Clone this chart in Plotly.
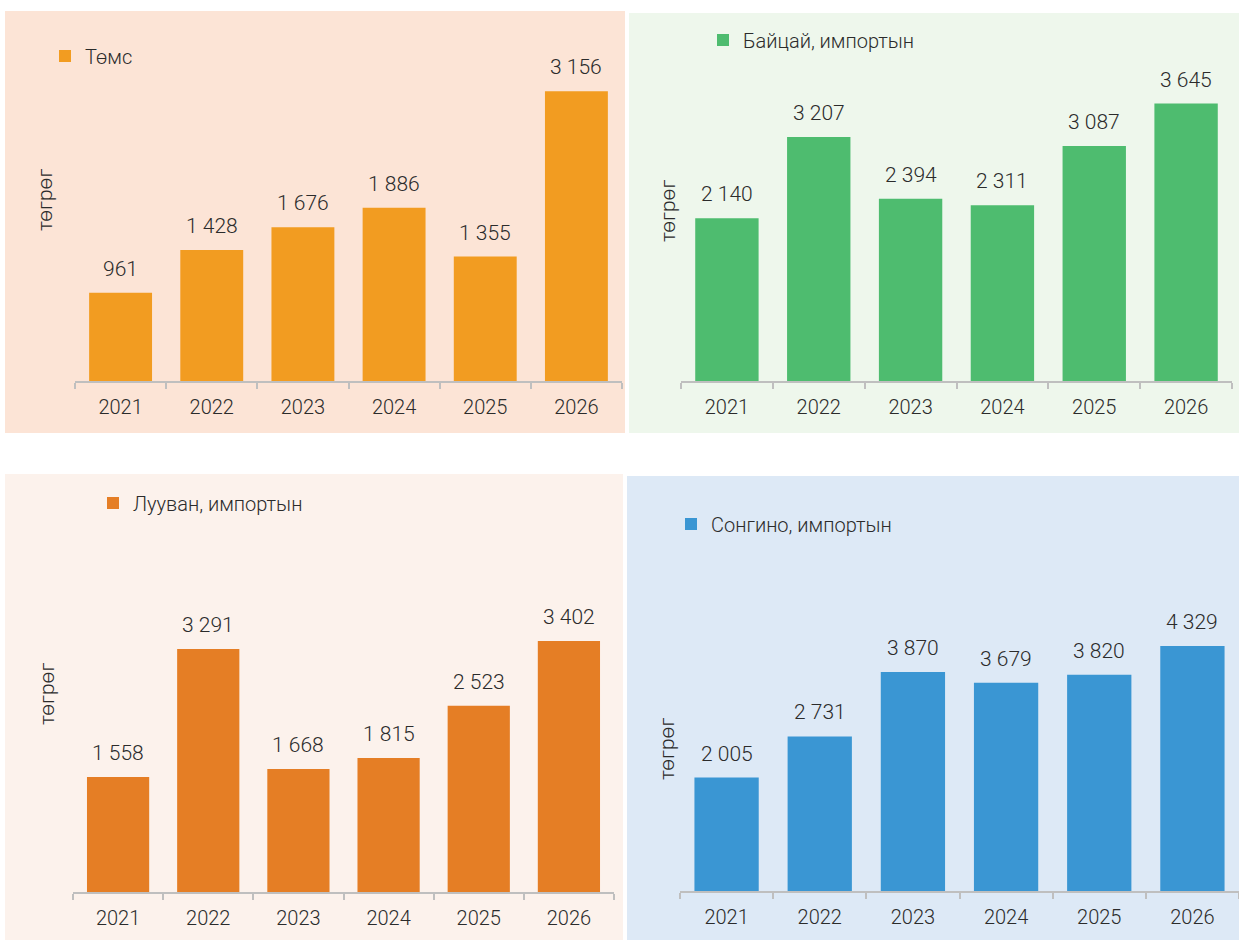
import plotly.graph_objects as go

years = ["2021", "2022", "2023", "2024", "2025", "2026"]

names = ["Төмс", "Байцай, импортын", "Лууван, импортын", "Сонгино, импортын"]
tums = [961, 1428, 1676, 1886, 1355, 3156]
baitsai = [2140, 3207, 2394, 2311, 3087, 3645]
luuvan = [1558, 3291, 1668, 1815, 2523, 3402]
songino = [2005, 2731, 3870, 3679, 3820, 4329]
series = [tums, baitsai, luuvan, songino]

y_title = "төгрөг"

bar_colors = ["#F29C21", "#4EBC6F", "#E57E25", "#3A96D3"]
bg_colors = ["#FCE4D6", "#EEF7EC", "#FCF2EC", "#DDE9F6"]

W, H = 1239, 940


def px(x):
    return x / W


def py(y):
    return 1 - y / H


# panel layout in pixels
panels = [
    dict(bg=(5, 11, 625, 433), xd=(75, 622), yd=(20, 381), ymax=(381 - 20) / 0.0918,
         leg=(45, 56), yt=(45, 200)),
    dict(bg=(629, 13, 1239, 433), xd=(681, 1232), yd=(20, 381), ymax=(381 - 20) / 0.0761,
         leg=(703, 40), yt=(668, 211)),
    dict(bg=(5, 474, 623, 940), xd=(73, 614), yd=(480, 892), ymax=(892 - 480) / 0.0738,
         leg=(93, 503), yt=(47, 694)),
    dict(bg=(627, 476, 1239, 940), xd=(680, 1239), yd=(480, 891), ymax=(891 - 480) / 0.0566,
         leg=(671, 524), yt=(667, 749)),
]

fig = go.Figure()
shapes = []
annotations = []
text_color = "#2b2b2b"
font_family = "Roboto"
fw = 300

for i, (p, vals, name, col, bg) in enumerate(zip(panels, series, names, bar_colors, bg_colors)):
    k = "" if i == 0 else str(i + 1)
    xa, ya = "x" + k, "y" + k
    leg = "legend" + k
    fig.add_trace(go.Bar(
        x=years, y=vals, name=name, marker=dict(color=col, line=dict(width=0)),
        xaxis=xa, yaxis=ya, legend=leg, showlegend=True, hoverinfo="x+y",
    ))
    x0, y0, x1, y1 = p["bg"]
    shapes.append(dict(type="rect", xref="paper", yref="paper", x0=px(x0), x1=px(x1),
                       y0=py(y1), y1=py(y0), fillcolor=bg, line=dict(width=0), layer="below"))
    fig.update_layout(**{
        "xaxis" + k: dict(domain=[px(p["xd"][0]), px(p["xd"][1])], anchor=ya, type="category",
                          range=[-0.5, len(years) - 0.5], automargin=False, tickangle=0,
                          showline=True, linecolor="#BFBFBF", linewidth=2,
                          ticks="outside", tickson="boundaries", ticklen=6, tickwidth=2,
                          tickcolor="#BFBFBF", showgrid=False, zeroline=False,
                          ticklabelstandoff=7,
                          tickfont=dict(size=20, color=text_color, family=font_family, weight=fw)),
        "yaxis" + k: dict(domain=[py(p["yd"][1]), py(p["yd"][0])], anchor=xa,
                          range=[0, p["ymax"]], visible=False, automargin=False),
        leg: dict(x=px(p["leg"][0]), y=py(p["leg"][1]), xanchor="left", yanchor="middle",
                  bgcolor="rgba(0,0,0,0)", borderwidth=0,
                  font=dict(size=20, color=text_color, family=font_family, weight=fw)),
    })
    for j, v in enumerate(vals):
        annotations.append(dict(x=j, y=v, xref=xa, yref=ya, text=f"{v:,}".replace(",", " "),
                                showarrow=False, yanchor="bottom", yshift=10,
                                font=dict(size=21, color=text_color, family=font_family, weight=fw)))
    annotations.append(dict(x=px(p["yt"][0]), y=py(p["yt"][1]), xref="paper", yref="paper",
                            text=y_title, textangle=-90, showarrow=False,
                            xanchor="center", yanchor="middle",
                            font=dict(size=21, color=text_color, family=font_family, weight=fw)))

fig.update_layout(
    width=W, height=H, margin=dict(l=0, r=0, t=0, b=0, autoexpand=False),
    paper_bgcolor="white", plot_bgcolor="rgba(0,0,0,0)",
    bargap=0.31, shapes=shapes, annotations=annotations,
    font=dict(family=font_family, color=text_color),
    separators=". ",
)

fig.write_html("out.html", config={"displayModeBar": False},
               post_script="document.body.style.margin='0';")
